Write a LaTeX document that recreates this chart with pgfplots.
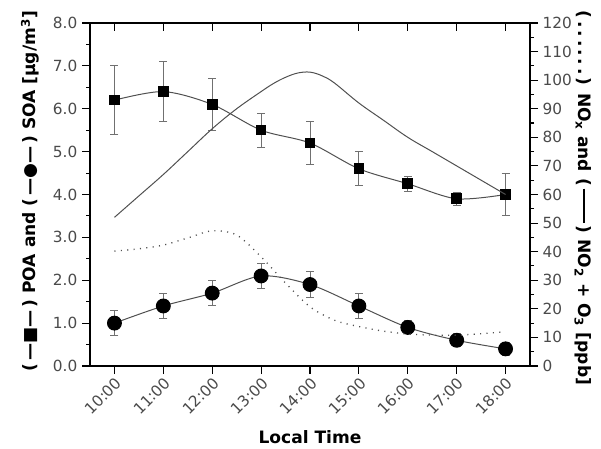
\documentclass[border=0pt]{standalone}
\usepackage{pgfplots}
\pgfplotsset{compat=1.18}
\usepackage{fontspec}
\setmainfont{DejaVu Sans}
\definecolor{lnc}{HTML}{505050}
\definecolor{erc}{HTML}{707070}
\definecolor{tlc}{HTML}{4A4A4A}
\begin{document}
\begin{tikzpicture}
\pgfplotsset{
  common/.style={
    scale only axis, width=330pt, height=257.25pt,
    xmin=9.5, xmax=18.5,
    xtick={10,11,12,13,14,15,16,17,18},
    major tick length=6pt, minor tick length=3pt,
    every tick/.style={black, line width=0.8pt},
    every minor tick/.style={black, line width=0.8pt},
    axis line style={line width=1pt},
    /pgf/number format/assume math mode=true,
    tick label style={font=\fontsize{11.5}{13}\selectfont, text=tlc},
    label style={font=\fontsize{12.8}{15}\selectfont\bfseries},
  },
  ebar/.style={error bars/.cd, y dir=both, y explicit,
    error bar style={erc, line width=0.75pt},
    error mark options={erc, rotate=90, mark size=3pt, line width=0.75pt}},
}
\begin{axis}[common, name=ax,
  ymin=0, ymax=8,
  axis x line*=bottom, axis y line*=left,
  tick align=outside,
  xticklabels={10:00,11:00,12:00,13:00,14:00,15:00,16:00,17:00,18:00},
  xticklabel style={rotate=45, anchor=north east, inner sep=1pt},
  ytick={0,1,...,8}, minor ytick={0.5,1.5,...,7.5},
  yticklabel style={/pgf/number format/fixed, /pgf/number format/fixed zerofill, /pgf/number format/precision=1},
  xlabel={Local Time},
  xlabel style={at={(axis description cs:0.5,-0.207)}, anchor=center},
  ylabel={(\,—\raisebox{0.02em}{■}—\,) POA and (\,—●—\,) SOA [µg/m\textsuperscript{3}]},
  ylabel style={at={(axis description cs:-0.136,0.51)}, anchor=center},
]
\addplot[lnc, line width=0.75pt, smooth, tension=0.5, mark=square*, mark size=3.6pt,
  mark options={black, solid}, ebar] table[x=x, y=y, y error=e] {
x y e
10 6.2 0.8
11 6.4 0.7
12 6.1 0.6
13 5.5 0.4
14 5.2 0.5
15 4.6 0.4
16 4.25 0.18
17 3.9 0.15
18 4.0 0.5
};
\addplot[lnc, line width=0.75pt, smooth, tension=0.5, mark=*, mark size=5.2pt,
  mark options={black, solid}, ebar] table[x=x, y=y, y error=e] {
x y e
10 1.0 0.3
11 1.4 0.3
12 1.7 0.3
13 2.1 0.3
14 1.9 0.3
15 1.4 0.3
16 0.9 0.15
17 0.6 0.15
18 0.4 0.15
};
\end{axis}
\begin{axis}[common,
  ymin=0, ymax=120,
  axis x line*=top, axis y line*=right,
  xtick align=inside, ytick align=outside,
  xticklabels={},
  ytick={0,10,...,120}, minor ytick={5,15,...,115},
  ylabel={(\,.\,.\,.\,.\,.\,.\,) NO\textsubscript{x} and (\,\rule[0.3em]{2em}{0.08em}\,) NO\textsubscript{2} + O\textsubscript{3} [ppb]},
  ylabel style={at={(axis description cs:1.12,0.49)}, anchor=center, rotate=180},
]
\addplot[lnc, line width=0.75pt, smooth, tension=0.6] coordinates {
(10,52) (10.5,59.5) (11,67) (11.5,75) (12,83) (12.5,90) (13,96) (13.25,98.8) (13.5,101) (13.75,102.5) (14,102.8) (14.25,101.5) (14.5,99) (15,92) (15.5,86) (16,80) (16.5,75) (17,70) (17.5,65) (18,60)};
\addplot[lnc, line width=1pt, smooth, tension=0.5, dash pattern=on 0.8pt off 4pt] coordinates {
(10,40.2) (10.5,41) (11,42.3) (11.5,44.8) (12,47.3) (12.5,45.8) (13,38.2) (13.5,29) (14,20.7) (14.5,16) (15,13.8) (15.5,12.2) (16,11.2) (16.5,10.8) (17,10.8) (17.5,11.3) (18,12)};
\end{axis}
\path ([shift={(-67.5pt,-61.5pt)}]ax.south west) rectangle ([shift={(53.25pt,17.25pt)}]ax.north east);
\end{tikzpicture}
\end{document}
